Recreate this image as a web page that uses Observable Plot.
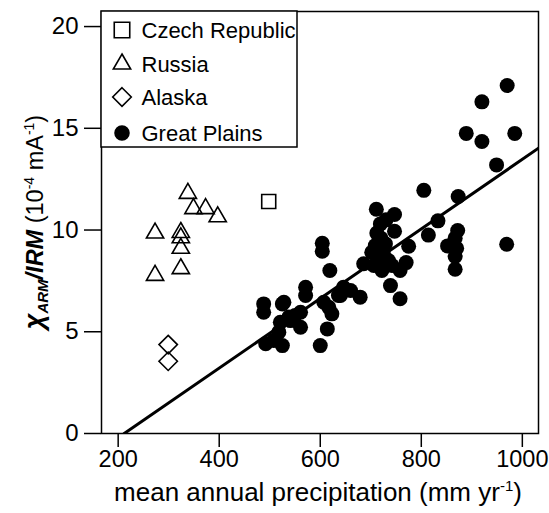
<!DOCTYPE html>
<html><head><meta charset="utf-8">
<script src="https://cdn.jsdelivr.net/npm/d3@7"></script>
<script src="https://cdn.jsdelivr.net/npm/@observablehq/plot@0.6"></script>
<style>body{margin:0;background:#fff}</style>
</head><body><div id="chart"></div>
<script>
// ---- data ----
const czechX = [498];
const czechY = [11.4];
const russiaX = [338, 349, 373, 397, 273, 324, 324, 324, 324, 273];
const russiaY = [11.8, 11.05, 11.05, 10.65, 9.85, 9.88, 9.62, 9.1, 8.1, 7.77];
const alaskaX = [299, 299];
const alaskaY = [4.37, 3.55];
const gpX = [970, 920, 985, 889, 920, 949, 969,
  805, 873, 833, 814,
  872, 867, 852, 870, 867, 867,
  775, 770,
  711, 747, 719, 747, 712, 730,
  709, 729, 702, 725, 706, 722, 742, 758, 686, 720, 735, 715,
  739, 758,
  604, 604, 619,
  571, 571, 646, 636, 679, 660, 607, 623, 617, 614, 640,
  488, 488, 525, 538, 561, 521, 561, 518, 492, 525, 600, 541, 508, 528, 550];
const gpY = [17.1, 16.3, 14.75, 14.75, 14.35, 13.2, 9.3,
  11.95, 11.65, 10.45, 9.75,
  9.98, 9.6, 9.22, 9.1, 8.7, 8.07,
  9.2, 8.4,
  11.02, 10.76, 10.3, 9.94, 9.85, 10.5,
  9.24, 9.32, 8.91, 8.83, 8.26, 8.01, 8.26, 8.01, 8.34, 9.6, 8.5, 8.6,
  7.27, 6.62,
  9.35, 8.96, 8.01,
  7.19, 6.78, 7.19, 6.78, 6.7, 7.03, 6.45, 5.88, 6.2, 5.14, 6.78,
  6.37, 5.96, 6.37, 5.72, 5.96, 5.47, 5.22, 4.98, 4.41, 4.32, 4.32, 5.55, 4.57, 6.45, 5.8];
const xTicks = [200, 400, 600, 800, 1000];
const yTicks = [0, 5, 10, 15, 20];
const legendLabels = ["Czech Republic", "Russia", "Alaska", "Great Plains"];
const fitSlope = 0.0171;
const fitIntercept = -3.625;
const xDomain = [167, 1032];
const yDomain = [0, 20.74];

// ---- build tables ----
const zip = (xs, ys) => xs.map((x, i) => ({x, y: ys[i]}));
const czech = zip(czechX, czechY);
const russia = zip(russiaX, russiaY);
const alaska = zip(alaskaX, alaskaY);
const gp = zip(gpX, gpY);
const x0 = -fitIntercept / fitSlope;
const fit = [x0, xDomain[1]].map(x => ({x, y: fitSlope * x + fitIntercept}));

const FONT = "'Liberation Sans', Arial, Helvetica, sans-serif";
const mL = 101, mR = 11, mT = 11, mB = 80, W = 549, H = 513;

const plot = Plot.plot({
  width: W, height: H,
  marginLeft: mL, marginRight: mR, marginTop: mT, marginBottom: mB,
  style: {fontFamily: FONT, fontSize: "23px", color: "black", background: "white", overflow: "visible"},
  x: {domain: xDomain},
  y: {domain: yDomain},
  marks: [
    Plot.axisX({ticks: xTicks, tickFormat: d3.format("d"), tickSize: 14, tickPadding: 3, fontSize: 23.5, strokeWidth: 1.5, label: null}),
    Plot.axisY({ticks: yTicks, tickFormat: d3.format("d"), tickSize: 17, tickPadding: 6, fontSize: 24, strokeWidth: 1.5, label: null}),
    Plot.line(fit, {x: "x", y: "y", stroke: "black", strokeWidth: 3, clip: true}),
    Plot.dot(gp, {x: "x", y: "y", r: 7.5, fill: "black", stroke: "none"}),
    Plot.dot(russia, {x: "x", y: "y", symbol: "triangle", r: 6.4, fill: "none", stroke: "black", strokeWidth: 1.6}),
    Plot.dot(alaska, {x: "x", y: "y", symbol: "diamond2", r: 8.3, fill: "none", stroke: "black", strokeWidth: 1.6}),
    Plot.dot(czech, {x: "x", y: "y", symbol: "square", r: 7.9, fill: "none", stroke: "black", strokeWidth: 1.6}),
    Plot.frame({stroke: "black", strokeWidth: 1.5})
  ]
});
document.getElementById("chart").appendChild(plot);

// ---- legend & axis titles ----
const svg = d3.select(plot);
const lg = svg.append("g");
lg.append("rect").attr("x", mL).attr("y", mT).attr("width", 196).attr("height", 136)
  .attr("fill", "white").attr("stroke", "black").attr("stroke-width", 1.5);
const legSym = [d3.symbolSquare, d3.symbolTriangle, d3.symbolDiamond2, d3.symbolCircle];
const legSize = [240, 130, 220, 190];
const legFill = ["none", "none", "none", "black"];
const rowY = [30, 64, 97, 133];
legendLabels.forEach((lab, i) => {
  lg.append("path").attr("d", d3.symbol(legSym[i], legSize[i])())
    .attr("transform", `translate(122,${rowY[i]})`)
    .attr("fill", legFill[i]).attr("stroke", legFill[i] === "none" ? "black" : "none").attr("stroke-width", 1.6);
  lg.append("text").attr("x", 141.5).attr("y", rowY[i]).attr("dy", "0.36em")
    .attr("text-anchor", "start")
    .attr("font-family", FONT).attr("font-size", 22).attr("fill", "black").text(lab);
});

const xt = svg.append("text").attr("x", 318).attr("y", 501)
  .attr("text-anchor", "middle").attr("font-family", FONT).attr("font-size", 26).attr("fill", "black");
xt.append("tspan").text("mean annual precipitation (mm yr");
xt.append("tspan").attr("font-size", 15).attr("dy", -10).text("-1");
xt.append("tspan").attr("dy", 10).text(")");

const yt = svg.append("text").attr("transform", `translate(43,${(mT + H - mB) / 2}) rotate(-90)`)
  .attr("text-anchor", "middle").attr("font-family", FONT).attr("font-size", 23.5).attr("fill", "black");
yt.append("tspan").attr("font-weight", "bold").attr("font-style", "italic").attr("font-size", 27).text("χ");
yt.append("tspan").attr("font-weight", "bold").attr("font-style", "italic").attr("font-size", 15).attr("dy", 5).text("ARM");
yt.append("tspan").attr("font-weight", "bold").attr("font-style", "italic").attr("dy", -5).text("/IRM");
yt.append("tspan").text(" (10");
yt.append("tspan").attr("font-size", 14).attr("dy", -9).text("-4");
yt.append("tspan").attr("dy", 9).text(" mA");
yt.append("tspan").attr("font-size", 14).attr("dy", -9).text("-1");
yt.append("tspan").attr("dy", 9).text(")");
</script>
</body></html>
